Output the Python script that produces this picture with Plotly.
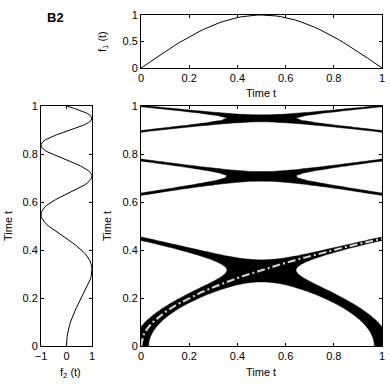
import numpy as np
import plotly.graph_objects as go

# time axes
t1 = [round(0.02 * i, 2) for i in range(51)]
t2 = [round(0.01 * i, 2) for i in range(101)]

# f1(t)
f1 = [0.0, 0.0628, 0.1253, 0.1874, 0.2487, 0.3090, 0.3681, 0.4258, 0.4818, 0.5358,
      0.5878, 0.6374, 0.6845, 0.7290, 0.7705, 0.8090, 0.8443, 0.8763, 0.9048, 0.9298,
      0.9511, 0.9686, 0.9823, 0.9921, 0.9980, 1.0, 0.9980, 0.9921, 0.9823, 0.9686,
      0.9511, 0.9298, 0.9048, 0.8763, 0.8443, 0.8090, 0.7705, 0.7290, 0.6845, 0.6374,
      0.5878, 0.5358, 0.4818, 0.4258, 0.3681, 0.3090, 0.2487, 0.1874, 0.1253, 0.0628, 0.0]

# f2(t)
f2 = [0.0, 0.0016, 0.0063, 0.0141, 0.0251, 0.0393, 0.0565, 0.0769, 0.1004, 0.1269,
      0.1564, 0.1889, 0.2243, 0.2624, 0.3030, 0.3461, 0.3913, 0.4385, 0.4873, 0.5372,
      0.5878, 0.6386, 0.6892, 0.7387, 0.7863, 0.8315, 0.8732, 0.9108, 0.9430, 0.9690,
      0.9877, 0.9981, 0.9993, 0.9902, 0.9701, 0.9382, 0.8939, 0.8367, 0.7665, 0.6833,
      0.5878, 0.4804, 0.3622, 0.2350, 0.1004, -0.0393, -0.1812, -0.3225, -0.4596, -0.5892,
      -0.7071, -0.8097, -0.8939, -0.9553, -0.9913, -0.9992, -0.9773, -0.9245, -0.8410, -0.7278,
      -0.5878, -0.4244, -0.2426, -0.0487, 0.1502, 0.3461, 0.5305, 0.6948, 0.8306, 0.9304,
      0.9877, 0.9979, 0.9585, 0.8695, 0.7335, 0.5556, 0.3446, 0.1113, -0.1316, -0.3696,
      -0.5878, -0.7716, -0.9074, -0.9848, -0.9961, -0.9382, -0.8127, -0.6264, -0.3913, -0.1238,
      0.1564, 0.4272, 0.6659, 0.8519, 0.9670, 0.9992, 0.9430, 0.8007, 0.5828, 0.3076, 0.0]

# line of synchronisation (grey dash-dot)
los_x = [0.0, 0.01, 0.02, 0.03, 0.05, 0.1, 0.15, 0.2, 0.25, 0.3, 0.35, 0.4, 0.45, 0.5,
         0.55, 0.6, 0.65, 0.7, 0.75, 0.8, 0.85, 0.9, 0.95, 1.0]
los_y = [0.0, 0.0447, 0.0632, 0.0775, 0.1, 0.1414, 0.1732, 0.2, 0.2236, 0.2449, 0.2646,
         0.2828, 0.3, 0.3162, 0.3317, 0.3464, 0.3606, 0.3742, 0.3873, 0.4, 0.4123, 0.4243,
         0.4359, 0.4472]

eps = 0.1

ticks_01 = [0, 0.2, 0.4, 0.6, 0.8, 1]
ticks_01_lbl = ["0", "0.2", "0.4", "0.6", "0.8", "1"]

FONT = "Liberation Sans, Arial, sans-serif"
W, H = 390, 387


def px_x(p):
    return p / W


def px_y(p):
    return 1 - p / H


def label(text, x, y, angle=0, size=11, bold=False):
    if bold:
        text = "<b>" + text + "</b>"
    return dict(text=text, x=px_x(x), y=px_y(y), xref="paper", yref="paper",
                xanchor="center", yanchor="middle", showarrow=False, textangle=angle,
                font=dict(size=size, color="black", family=FONT))


# cross recurrence: f1(x) - f2(y)
diff = np.array(f1)[None, :] - np.array(f2)[:, None]

fig = go.Figure()

fig.add_trace(go.Contour(
    x=t1, y=t2, z=diff,
    contours=dict(type="constraint", operation=")(", value=[-eps, eps]),
    fillcolor="black",
    line=dict(color="black", width=0.5),
    showscale=False, hoverinfo="skip",
    xaxis="x", yaxis="y",
))
fig.add_trace(go.Scatter(
    x=los_x, y=los_y, mode="lines",
    line=dict(color="#d0d0d0", width=2.2, dash="8px,3px,2px,3px"),
    xaxis="x", yaxis="y",
))
fig.add_trace(go.Scatter(
    x=t1, y=f1, mode="lines", line=dict(color="black", width=1),
    xaxis="x2", yaxis="y2",
))
fig.add_trace(go.Scatter(
    x=f2, y=t2, mode="lines", line=dict(color="black", width=1),
    xaxis="x3", yaxis="y3",
))

ax = dict(
    showline=True, linecolor="black", linewidth=1, mirror="ticks",
    ticks="inside", ticklen=3, tickcolor="black",
    showgrid=False, zeroline=False, automargin=False,
    tickfont=dict(size=11, color="black", family=FONT),
)

main_x = [px_x(141), px_x(382)]
main_y = [px_y(346), px_y(106)]

fig.update_layout(
    template="none",
    width=W, height=H,
    margin=dict(l=0, r=0, t=0, b=0),
    paper_bgcolor="white", plot_bgcolor="white",
    showlegend=False,
    font=dict(family=FONT, size=11, color="black"),
    xaxis=dict(ax, domain=main_x, range=[0, 1], tickvals=ticks_01, ticktext=ticks_01_lbl,
               anchor="y"),
    yaxis=dict(ax, domain=main_y, range=[0, 1], tickvals=ticks_01, ticktext=ticks_01_lbl,
               anchor="x"),
    xaxis2=dict(ax, domain=main_x, range=[0, 1], tickvals=ticks_01, ticktext=ticks_01_lbl,
                anchor="y2"),
    yaxis2=dict(ax, domain=[px_y(68), px_y(15)], range=[0, 1],
                tickvals=[0, 0.5, 1], ticktext=["0", "0.5", "1"], anchor="x2"),
    xaxis3=dict(ax, domain=[px_x(41), px_x(92)], range=[-1, 1],
                tickvals=[-1, 0, 1], ticktext=["\u22121", "0", "1"], anchor="y3"),
    yaxis3=dict(ax, domain=main_y, range=[0, 1], tickvals=ticks_01, ticktext=ticks_01_lbl,
                anchor="x3"),
    annotations=[
        label("B2", 55, 17, size=13, bold=True),
        label("Time t", 261, 93),
        label("f<sub>1</sub> (t)", 103, 42, angle=-90),
        label("Time t", 261, 372),
        label("Time t", 107, 226, angle=-90),
        label("f<sub>2</sub> (t)", 70, 373),
        label("Time t", 8, 226, angle=-90),
    ],
)

# drop the page's default body margin so the figure sits at the window's corner
fig.write_html("out.html", config={"displayModeBar": False},
               post_script="document.body.style.margin='0';")
